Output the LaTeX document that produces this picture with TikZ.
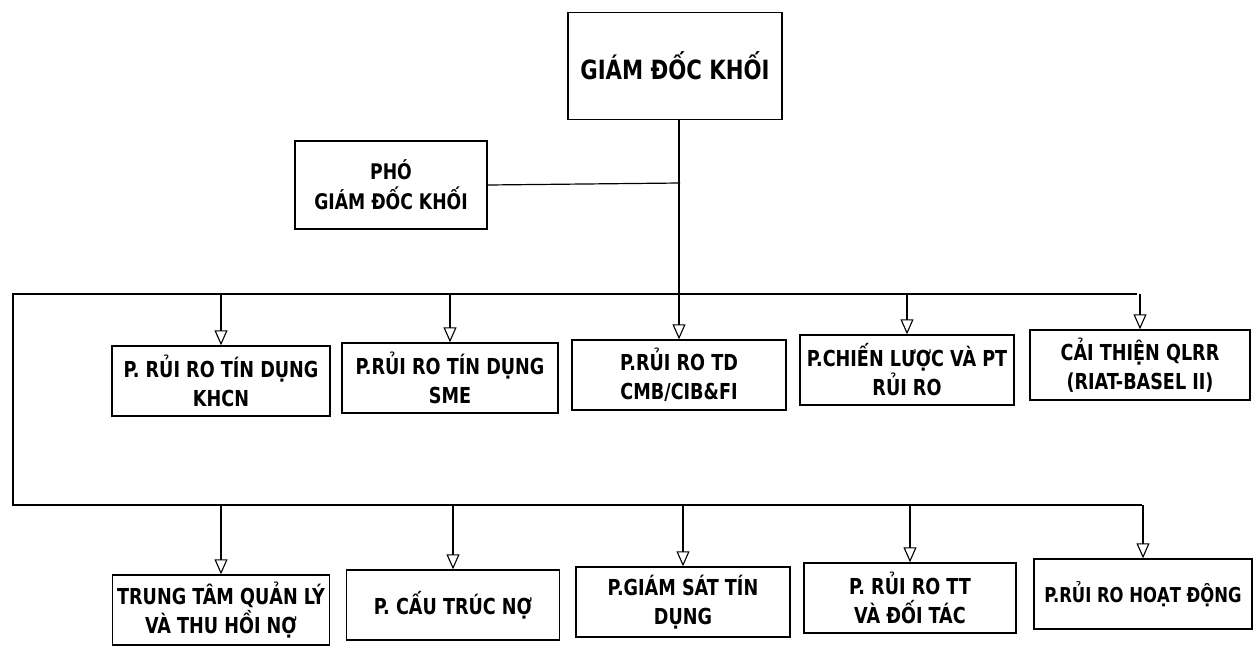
\documentclass[tikz,border=0pt]{standalone}
\usepackage{fontspec}
\setmainfont[FakeStretch=0.89]{DejaVu Sans Condensed}
\usetikzlibrary{arrows.meta}
\begin{document}
\begin{tikzpicture}[x=1pt,y=-1pt,
  box/.style={draw,line width=1.4pt,fill=white,font=\bfseries\fontsize{22}{29}\selectfont,align=center,inner sep=0pt},
  ln/.style={line width=1.2pt},
  arr/.style={ln,-{Triangle[open,width=13pt,length=15pt,line width=1.1pt]}}]
\useasboundingbox (0,0) rectangle (1260,646);
% top
\node[box,minimum width=214pt,minimum height=107pt,font=\bfseries\fontsize{26.5}{32}\selectfont] (gd) at (675,66) {GIÁM ĐỐC KHỐI};
\node[box,minimum width=192pt,minimum height=88pt,font=\bfseries\fontsize{21.5}{30}\selectfont] (pgd) at (391,185) {PHÓ\\GIÁM ĐỐC KHỐI};
% row 1
\node[box,minimum width=218pt,minimum height=70pt] (a1) at (221,381) {P. RỦI RO TÍN DỤNG\\KHCN};
\node[box,minimum width=216pt,minimum height=70pt] (a2) at (450,378) {P.RỦI RO TÍN DỤNG\\SME};
\node[box,minimum width=214pt,minimum height=70pt] (a3) at (679,375) {P.RỦI RO TD\\CMB/CIB\&FI};
\node[box,minimum width=214pt,minimum height=70pt] (a4) at (907,370) {P.CHIẾN LƯỢC VÀ PT\\RỦI RO};
\node[box,minimum width=220pt,minimum height=70pt] (a5) at (1140,365) {CẢI THIỆN QLRR\\(RIAT-BASEL II)};
% row 2
\node[box,minimum width=217pt,minimum height=70pt] (b1) at (221,610) {TRUNG TÂM QUẢN LÝ\\VÀ THU HỒI NỢ};
\node[box,minimum width=213pt,minimum height=70pt] (b2) at (453,605) {P. CẤU TRÚC NỢ};
\node[box,minimum width=214pt,minimum height=70pt] (b3) at (683,602) {P.GIÁM SÁT TÍN\\DỤNG};
\node[box,minimum width=212pt,minimum height=70pt] (b4) at (910,598) {P. RỦI RO TT\\VÀ ĐỐI TÁC};
\node[box,minimum width=218pt,minimum height=70pt,font=\bfseries\fontsize{20.5}{29}\selectfont] (b5) at (1143,594) {P.RỦI RO HOẠT ĐỘNG};
% bus coordinates
\coordinate (j) at (680,183);
\coordinate (tl) at (13,294);
\coordinate (tr) at (1137,294);
\coordinate (bl) at (13,505);
\coordinate (br) at (1142,505);
% connectors
\draw[ln] (pgd.east) -- (j);
\draw[arr] (gd.south -| a3.north) -- (a3.north);
\draw[ln] (tr) -- (tl) -- (bl) -- (br);
\foreach \n in {a1,a2,a4,a5}{\draw[arr] (tl -| \n.north) -- (\n.north);}
\foreach \n in {b1,b2,b3,b4,b5}{\draw[arr] (bl -| \n.north) -- (\n.north);}
\end{tikzpicture}
\end{document}
